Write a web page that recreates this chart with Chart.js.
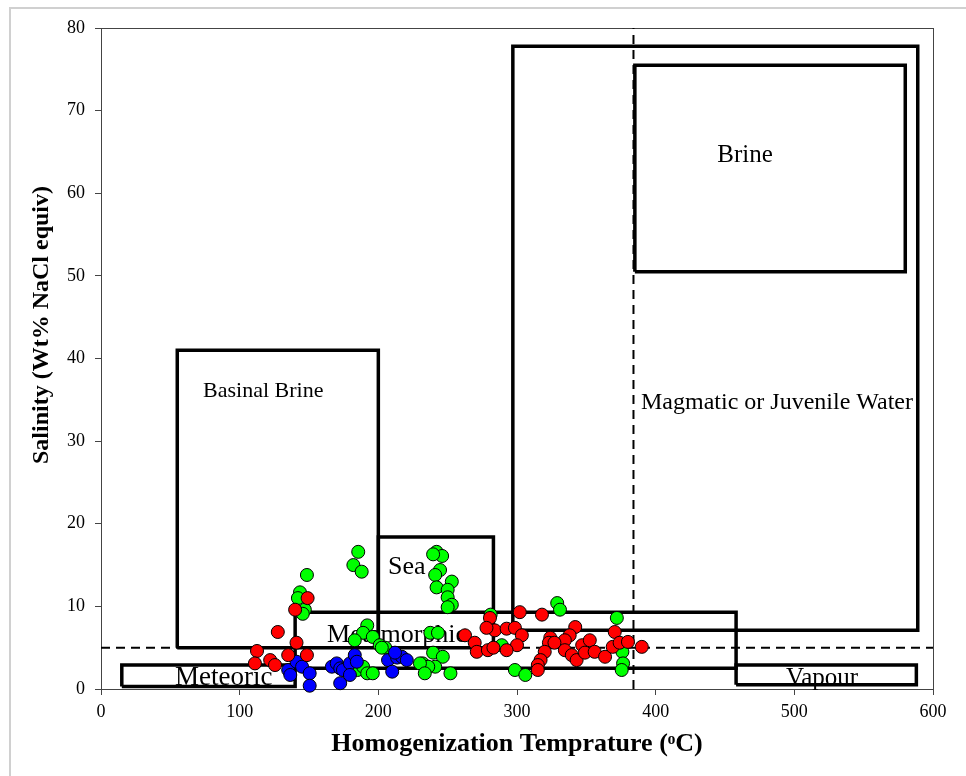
<!DOCTYPE html>
<html>
<head>
<meta charset="utf-8">
<script src="https://cdn.jsdelivr.net/npm/chart.js@4"></script>
<style>
  html, body { margin: 0; padding: 0; background: #fff; }
  #wrap { width: 966px; height: 776px; }
</style>
</head>
<body>
<div id="wrap"><canvas id="chart" width="966" height="776"></canvas></div>
<script>
// fluid inclusion data
const redX = [112.5, 111, 122, 125.5, 127.5, 135, 140, 149, 141, 148.5, 262.5, 269.5, 271, 279, 283, 280.5, 284, 278,
    292.5, 298.5, 303.5, 300, 292.5, 302, 318, 324, 323, 320, 317, 315, 315, 342, 338, 334.5, 347, 352.5, 334.5,
    339.5, 343, 349, 356, 363.5, 369, 370.5, 374, 380, 390, 327]
const redY = [4.6, 3.1, 3.5, 2.9, 6.9, 4.1, 9.6, 11.0, 5.6, 4.1, 6.5, 5.6, 4.5, 4.7, 5.0, 8.6, 7.1, 7.4,
    7.3, 7.4, 6.5, 5.3, 4.7, 9.3, 9.0, 6.2, 5.6, 4.5, 3.5, 2.9, 2.3, 7.5, 6.5, 5.9, 5.3, 5.9, 4.7,
    4.1, 3.5, 4.4, 4.5, 3.9, 5.1, 6.9, 5.6, 5.7, 5.1, 5.6]

const greenX = [148.5, 143.5, 142, 147, 145.5, 185.5, 182, 188, 192, 189, 196, 183, 201, 205, 185, 189, 192, 196,
    242, 246, 239.5, 244.5, 241, 253, 242, 250, 250, 253, 250, 237.5, 243, 232, 239.5, 246.5, 241, 236, 252, 230,
    233.5, 289, 281, 329, 331, 298.5, 306, 372, 374, 376, 376.5, 375.5, 202.5]
const greenY = [13.8, 11.7, 11.0, 9.6, 9.1, 16.6, 15.0, 14.2, 7.7, 6.8, 6.3, 5.9, 5.3, 5.0, 2.3, 2.7, 1.9, 1.9,
    16.6, 16.1, 16.3, 14.4, 13.8, 13.0, 12.3, 12.0, 11.1, 10.2, 9.9, 6.8, 6.8, 3.1, 4.4, 3.9, 2.7, 2.7, 1.9, 3.1,
    1.9, 5.3, 9.0, 10.4, 9.6, 2.3, 1.7, 8.6, 5.0, 4.5, 3.1, 2.3, 5.0]

const blueX = [135, 136.5, 141, 145, 150.5, 150.5, 166.5, 170, 172.5, 174.5, 172.5, 179.5, 183, 179.5, 184.5,
    207, 210, 213.5, 217, 220.5, 212]
const blueY = [2.3, 1.7, 3.3, 2.7, 1.9, 0.4, 2.7, 3.1, 2.5, 2.3, 0.7, 3.1, 4.1, 1.7, 3.3,
    3.5, 2.1, 3.8, 3.9, 3.5, 4.4]

// fluid source fields: [xmin, xmax], [ymin, ymax]
const fieldNames = ['Basinal Brine', 'Sea', 'Metamorphic', 'Meteoric', 'Vapour', 'Magmatic or Juvenile Water', 'Brine']
const fieldX = [[55, 200], [200, 283], [140, 458], [15, 140], [458, 588], [297, 589], [385, 580]]
const fieldY = [[5, 41], [5, 18.4], [2.5, 9.3], [0.3, 2.9], [0.5, 2.9], [7.1, 77.8], [50.5, 75.5]]
const labelX = [117, 220.5, 213.5, 88.5, 520, 487.5, 464.5]
const labelY = [36, 14.8, 6.5, 1.3, 1.3, 34.7, 64.6]

const xTicks = [0, 100, 200, 300, 400, 500, 600]
const yTicks = [0, 10, 20, 30, 40, 50, 60, 70, 80]
const salinityLine = 5
const tempLine = 384

const serif = "'Liberation Serif', 'Times New Roman', serif"
// label font sizes, same order as fieldNames
const labelSize = [22, 26, 26, 27, 25, 24, 25]

function pts(xs, ys) {
    return xs.map((x, i) => ({x: x, y: ys[i]}))
}

function rect(i) {
    const [x1, x2] = fieldX[i]
    const [y1, y2] = fieldY[i]
    return [{x: x1, y: y1}, {x: x2, y: y1}, {x: x2, y: y2}, {x: x1, y: y2}, {x: x1, y: y1}]
}

const boxSets = fieldNames.map((name, i) => ({
    label: name,
    data: rect(i),
    showLine: true,
    borderColor: '#000',
    borderWidth: 3.5,
    pointRadius: 0,
    fill: false,
    order: 3,
    clip: false
}))

const dashSets = [
    {label: 'salinity', data: [{x: xTicks[0], y: salinityLine}, {x: xTicks[xTicks.length - 1], y: salinityLine}]},
    {label: 'temp', data: [{x: tempLine, y: yTicks[0]}, {x: tempLine, y: yTicks[yTicks.length - 1]}]}
].map(d => Object.assign(d, {
    showLine: true, borderColor: '#000', borderWidth: 2, borderDash: [9, 6],
    pointRadius: 0, order: 4, clip: false
}))

function dots(label, xs, ys, color, order) {
    return {
        label: label,
        data: pts(xs, ys),
        backgroundColor: color,
        borderColor: '#000',
        borderWidth: 1,
        pointRadius: 6.5,
        showLine: false,
        order: order,
        clip: false
    }
}

const framePlugin = {
    id: 'frame',
    beforeDraw(chart) {
        const ctx = chart.ctx
        ctx.save()
        ctx.fillStyle = '#fff'
        ctx.fillRect(0, 0, chart.width, chart.height)
        ctx.strokeStyle = '#d0d0d0'
        ctx.lineWidth = 2
        ctx.strokeRect(10, 8, chart.width + 20, chart.height + 20)
        ctx.restore()
    },
    beforeDatasetsDraw(chart) {
        const {ctx, chartArea: a, scales} = chart
        ctx.save()
        ctx.strokeStyle = '#444'
        ctx.lineWidth = 1
        ctx.strokeRect(a.left + 0.5, a.top + 0.5, a.right - a.left, a.bottom - a.top)
        ctx.fillStyle = '#000'
        ctx.textAlign = 'center'
        ctx.textBaseline = 'middle'
        fieldNames.forEach((name, i) => {
            ctx.font = labelSize[i] + 'px ' + serif
            ctx.fillText(name, scales.x.getPixelForValue(labelX[i]), scales.y.getPixelForValue(labelY[i]))
        })
        // y axis title sits a bit above the middle of the axis in the original
        ctx.translate(42, 325)
        ctx.rotate(-Math.PI / 2)
        ctx.font = 'bold 24px ' + serif
        ctx.fillText('Salinity (Wt% NaCl equiv)', 0, 0)
        ctx.restore()
    }
}

new Chart(document.getElementById('chart'), {
    type: 'scatter',
    data: {
        datasets: [
            dots('Red', redX, redY, '#ff0000', 0),
            dots('Blue', blueX, blueY, '#0000ff', 1),
            dots('Green', greenX, greenY, '#00ff00', 2),
            ...boxSets,
            ...dashSets
        ]
    },
    options: {
        responsive: false,
        animation: false,
        layout: {padding: {top: 28, right: 33, left: 0, bottom: 0}},
        plugins: {legend: {display: false}, tooltip: {enabled: false}},
        scales: {
            x: {
                type: 'linear', min: 0, max: 600,
                afterBuildTicks(s) { s.ticks = xTicks.map(v => ({value: v})) },
                afterFit(s) { s.height = 87 },
                ticks: {color: '#000', font: {family: serif, size: 18}, padding: 6},
                grid: {drawOnChartArea: false, drawTicks: true, tickLength: 6, color: '#444'},
                border: {color: '#444', width: 1},
                title: {display: true, text: 'Homogenization Temprature (ᵒC)', color: '#000',
                    font: {family: serif, size: 26, weight: 'bold'}, padding: {top: 0, bottom: 16}}
            },
            y: {
                min: 0, max: 80,
                afterBuildTicks(s) { s.ticks = yTicks.map(v => ({value: v})) },
                afterFit(s) { s.width = 101 },
                ticks: {color: '#000', font: {family: serif, size: 18}, padding: 10},
                grid: {drawOnChartArea: false, drawTicks: true, tickLength: 6, color: '#444'},
                border: {color: '#444', width: 1},
                title: {display: false}
            }
        }
    },
    plugins: [framePlugin]
})
</script>
</body>
</html>
